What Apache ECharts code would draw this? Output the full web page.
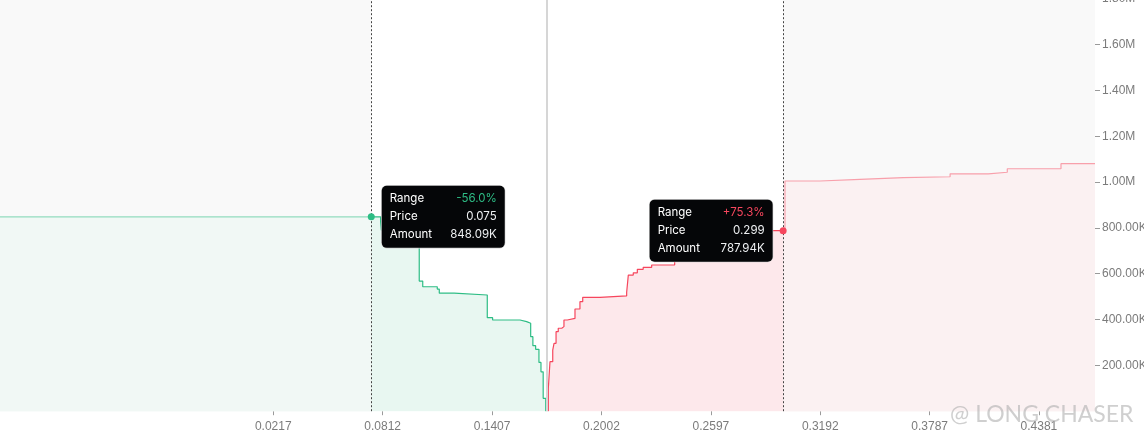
<!DOCTYPE html>
<html>
<head>
<meta charset="utf-8">
<script src="https://cdn.jsdelivr.net/npm/echarts@6/dist/echarts.min.js"></script>
<style>
html,body{margin:0;padding:0;background:#fff;}
#chart{width:1144px;height:442px;}
</style>
</head>
<body>
<div id="chart"></div>
<script>
// ---- data ----
const xMin = -0.1269;
const xMax = 0.4686;
const midPrice = 0.1706;
const xTickValues = [0.0217, 0.0812, 0.1407, 0.2002, 0.2597, 0.3192, 0.3787, 0.4381];

const bidPrices  = [-0.1269, 0.0801, 0.0805, 0.088, 0.095, 0.1011, 0.1030, 0.1109, 0.1120, 0.1201, 0.1381, 0.1410, 0.1559, 0.1595, 0.1617, 0.1629, 0.1644, 0.1662, 0.1673, 0.1685, 0.1699];
const bidAmounts = [848090, 826000, 790000, 770000, 745000, 568000, 543000, 533000, 515000, 507000, 408000, 398000, 391000, 384000, 325000, 286000, 270000, 213000, 172000, 56000, 0];

const askPrices  = [0.1713, 0.1713, 0.1722, 0.1737, 0.1744, 0.1755, 0.1767, 0.1786, 0.1798, 0.1816, 0.1858, 0.1885, 0.1900, 0.1994, 0.2139, 0.2148, 0.2175, 0.2197, 0.2229, 0.2275, 0.240, 0.255, 0.270, 0.285, 0.3000, 0.3190, 0.3408, 0.3643, 0.3898, 0.4106, 0.4209, 0.4501, 0.4686];
const askAmounts = [0, 100000, 216000, 267000, 296000, 347000, 362000, 369000, 398000, 405000, 446000, 478000, 497000, 503000, 519000, 594000, 604000, 619000, 628000, 638000, 680000, 720000, 760000, 787940, 1004600, 1012000, 1019000, 1023000, 1036000, 1042600, 1058000, 1080000, 1080000];

const bidMarker = { range: '-56.0%', price: 0.075, amount: 848090, amountText: '848.09K' };
const askMarker = { range: '+75.3%', price: 0.299, amount: 787940, amountText: '787.94K' };

// ---- chart ----
const GREEN = '#2ebd85';
const RED = '#f6465d';
const zip = (xs, ys) => xs.map((x, i) => [x, ys[i]]);

function yFmt(v) {
  if (v >= 1e6) return (v / 1e6).toFixed(2) + 'M';
  return (v / 1e3).toFixed(2) + 'K';
}

function tipLabel(m, key, pos) {
  const base = { fontSize: 11.5, fontFamily: 'Inter', lineHeight: 18 };
  return {
    show: true,
    position: pos,
    distance: 7,
    backgroundColor: '#050608',
    borderColor: '#cfcfcf',
    borderWidth: 0.6,
    borderRadius: 5,
    padding: [4, 8, 4, 8],
    formatter: '{k|Range}{' + key + '|' + m.range + '}\n{k|Price}{v|' + m.price.toFixed(3) + '}\n{k|Amount}{v|' + m.amountText + '}',
    rich: {
      k: Object.assign({ color: '#ffffff', width: 50, align: 'left' }, base),
      v: Object.assign({ color: '#eef0f2', width: 57, align: 'right' }, base),
      g: Object.assign({ color: GREEN, width: 57, align: 'right' }, base),
      r: Object.assign({ color: RED, width: 57, align: 'right' }, base)
    }
  };
}

const chart = echarts.init(document.getElementById('chart'), null, { renderer: 'canvas' });
chart.setOption({
  animation: false,
  backgroundColor: '#ffffff',
  grid: { left: 0, right: 49, top: -1.3, bottom: 30.8, containLabel: false, outerBoundsMode: 'none' },
  xAxis: {
    type: 'value',
    min: xMin,
    max: xMax,
    splitLine: { show: false },
    axisLine: { show: false, onZero: false },
    axisTick: { show: true, length: 4, lineStyle: { color: '#9a9a9a' }, customValues: xTickValues },
    axisLabel: {
      color: '#7b7b7b', fontSize: 12, fontFamily: 'Liberation Sans', margin: 9,
      customValues: xTickValues,
      formatter: v => v.toFixed(4)
    }
  },
  yAxis: {
    type: 'value',
    position: 'right',
    min: 0,
    max: 1800000,
    interval: 200000,
    splitLine: { show: false },
    axisLine: { show: false, onZero: false },
    axisTick: { show: true, length: 5, lineStyle: { color: '#9a9a9a' } },
    axisLabel: {
      color: '#7b7b7b', fontSize: 12, fontFamily: 'Liberation Sans', margin: 7,
      showMinLabel: false,
      formatter: v => v === 0 ? '' : yFmt(v)
    }
  },
  series: [
    {
      name: 'bg', type: 'line', z: 0, data: [[midPrice, 0]], symbol: 'none',
      lineStyle: { opacity: 0 }, silent: true,
      markArea: {
        silent: true, z: 0,
        itemStyle: { color: '#f9f9f9', opacity: 1 },
        data: [[{ xAxis: xMin }, { xAxis: bidMarker.price }], [{ xAxis: askMarker.price }, { xAxis: xMax }]]
      }
    },
    {
      name: 'Bids', type: 'line', step: 'end', z: 2,
      data: zip(bidPrices, bidAmounts),
      showSymbol: false, symbol: 'none',
      lineStyle: { color: GREEN, width: 1.2 },
      itemStyle: { color: GREEN },
      areaStyle: { color: '#e8f7f1', opacity: 1 },
      markPoint: {
        z: 10,
        symbol: 'circle', symbolSize: 7,
        itemStyle: { color: GREEN },
        data: [{ coord: [bidMarker.price, bidMarker.amount], label: tipLabel(bidMarker, 'g', 'right') }]
      }
    },
    {
      name: 'Asks', type: 'line', step: 'end', z: 2,
      data: zip(askPrices, askAmounts),
      showSymbol: false, symbol: 'none',
      lineStyle: { color: RED, width: 1.2 },
      itemStyle: { color: RED },
      areaStyle: { color: '#fde8eb', opacity: 1 },
      markPoint: {
        z: 10,
        symbol: 'circle', symbolSize: 7,
        itemStyle: { color: RED },
        data: [{ coord: [askMarker.price, askMarker.amount], label: tipLabel(askMarker, 'r', 'left') }]
      }
    },
    {
      name: 'overlay', type: 'line', z: 3, data: [[midPrice, 0]], symbol: 'none',
      lineStyle: { opacity: 0 }, silent: true,
      markArea: {
        silent: true, z: 3,
        itemStyle: { color: 'rgba(249,249,249,0.5)', opacity: 1 },
        data: [[{ xAxis: xMin }, { xAxis: bidMarker.price }], [{ xAxis: askMarker.price }, { xAxis: xMax }]]
      },
      markLine: {
        silent: true, z: 4, symbol: 'none', precision: 6,
        label: { show: false },
        data: [
          { xAxis: bidMarker.price, lineStyle: { color: '#444', width: 1, type: [2, 2] } },
          { xAxis: askMarker.price, lineStyle: { color: '#444', width: 1, type: [2, 2] } },
          { xAxis: midPrice, lineStyle: { color: '#d6d6d6', width: 2, type: 'solid' } }
        ]
      }
    }
  ],
  graphic: [
    {
      type: 'text', left: 950, top: 403, silent: true, z: 100,
      style: { text: '@ LONG CHASER', fontSize: 23, fontFamily: 'Lato', fill: 'rgba(175,175,175,0.6)' }
    }
  ]
});
</script>
</body>
</html>
